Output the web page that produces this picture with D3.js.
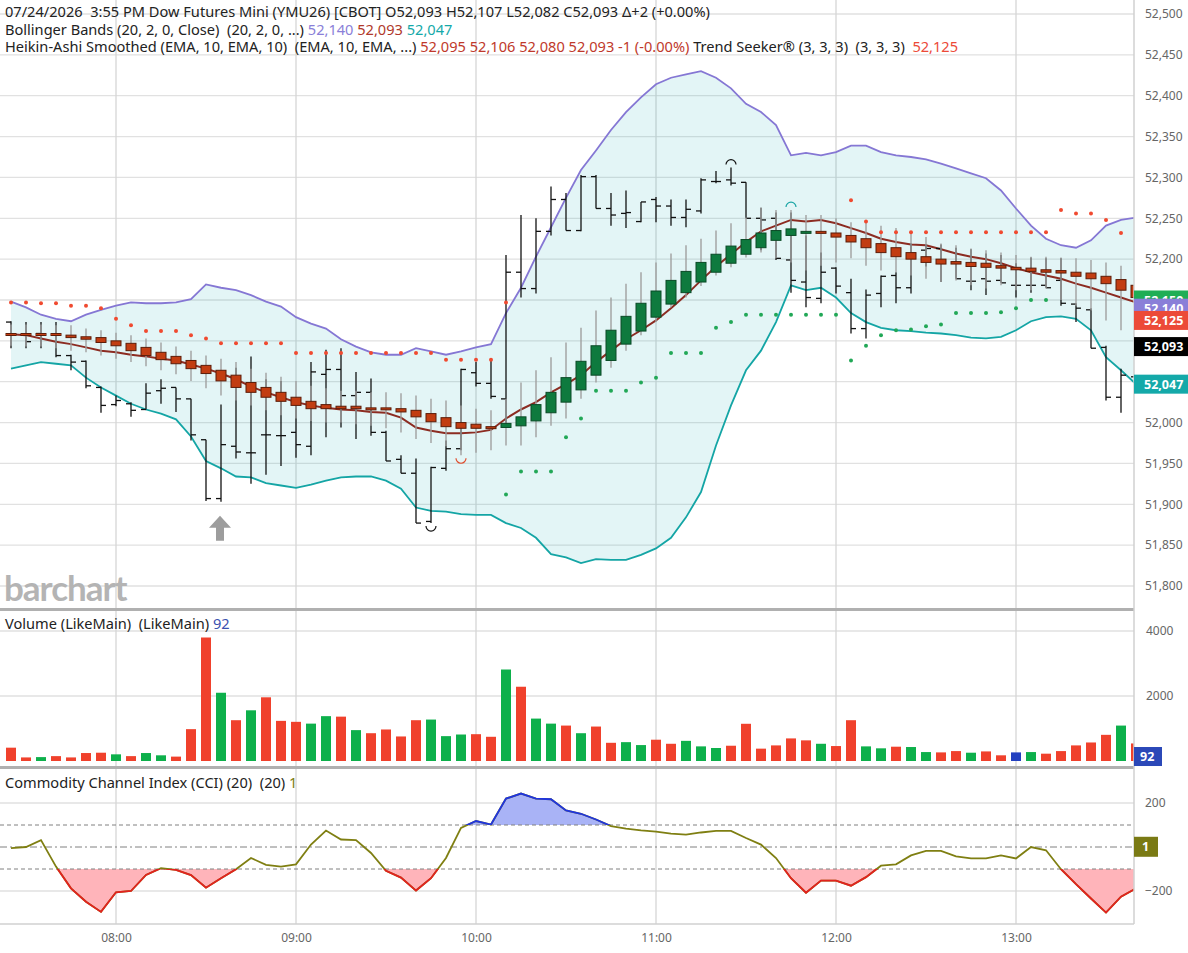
<!DOCTYPE html>
<html>
<head>
<meta charset="utf-8">
<script src="https://cdn.jsdelivr.net/npm/d3@7"></script>
<style>
body { margin: 0; background: #fff; }
svg text { font-family: "Noto Sans", sans-serif; }
</style>
</head>
<body>
<svg id="chart" width="1188" height="953"></svg>
<script>
// 5-minute bars, 07:25 .. 13:40
const startTime = new Date(2026, 6, 24, 7, 25)

const open = [52123,52108,52109,52108,52082,52075,52043,52022,52023,52016,
	52039,52043,52029,51979,51907,51971,51963,51985,51984,51988,
	51971,52059,52065,52033,52037,51988,51955,51938,51879,51944,
	51968,52061,52048,52029,52184,52164,52234,52273,52235,52301,
	52262,52256,52246,52273,52265,52251,52259,52295,52297,52294,
	52250,52250,52199,52172,52152,52189,52159,52115,52158,52180,
	52165,52211,52213,52196,52173,52176,52174,52168,52168,52168,
	52174,52145,52138,52092,52031,52056]
const high = [52124,52123,52123,52123,52083,52076,52044,52033,52025,52048,
	52053,52043,52029,51979,52022,52067,52081,52053,52051,52031,
	52074,52089,52091,52062,52054,51990,51960,51956,51946,51978,
	52066,52074,52078,52205,52254,52250,52289,52281,52303,52303,
	52281,52284,52270,52276,52273,52273,52299,52308,52312,52294,
	52263,52257,52257,52229,52208,52190,52176,52163,52180,52184,
	52219,52218,52218,52214,52212,52207,52205,52195,52202,52201,
	52201,52146,52140,52094,52066,52064]
const low = [52091,52091,52091,52080,52064,52042,52012,52020,52007,52016,
	52023,52013,51978,51904,51903,51956,51925,51936,51947,51957,
	51960,51982,51994,51980,51984,51953,51938,51877,51877,51941,
	51966,52044,52029,51996,52153,52158,52229,52235,52234,52262,
	52241,52238,52245,52245,52241,52239,52256,52293,52290,52250,
	52211,52199,52159,52141,52146,52158,52109,52103,52141,52146,
	52158,52191,52172,52176,52162,52156,52171,52153,52159,52165,
	52143,52123,52091,52027,52012,52033]
const close = [52108,52099,52107,52082,52074,52045,52021,52027,52015,52036,
	52042,52029,51985,51907,51973,51964,51963,51985,51984,51973,
	52062,52065,52033,52037,51988,51953,51938,51877,51945,51968,
	52065,52048,52032,52184,52164,52234,52273,52235,52301,52262,
	52254,52257,52270,52265,52251,52261,52297,52295,52293,52250,
	52248,52201,52174,52153,52184,52167,52115,52156,52179,52165,
	52207,52213,52196,52176,52173,52173,52171,52168,52168,52165,
	52146,52140,52091,52031,52058,52045]

// Heikin-Ashi smoothed candles
const haOpen = [52109,52109,52109,52109,52107,52105,52104,52100,52097,52092,
	52086,52081,52076,52070,52064,52058,52049,52043,52037,52031,
	52026,52022,52020,52020,52018,52018,52017,52015,52011,52006,
	52000,51998,51995,51994,51996,52002,52012,52025,52040,52058,
	52076,52096,52112,52129,52145,52159,52172,52184,52195,52206,
	52214,52223,52229,52232,52234,52232,52229,52225,52219,52214,
	52208,52203,52200,52197,52196,52195,52192,52190,52189,52187,
	52186,52184,52183,52179,52175,52168]
const haClose = [52108,52108,52108,52107,52104,52102,52098,52094,52088,52082,
	52077,52072,52066,52060,52051,52043,52037,52031,52026,52021,
	52017,52017,52017,52017,52016,52016,52013,52007,52001,51995,
	51993,51993,51993,51999,52007,52022,52037,52055,52075,52094,
	52113,52130,52146,52161,52174,52185,52196,52206,52216,52224,
	52232,52235,52237,52234,52232,52227,52221,52214,52208,52203,
	52200,52196,52194,52194,52191,52190,52189,52187,52185,52184,
	52183,52179,52176,52170,52162,52153]
const haHigh = [52120,52120,52120,52119,52119,52115,52113,52110,52107,52103,
	52098,52093,52088,52082,52078,52074,52066,52061,52056,52051,
	52045,52042,52039,52039,52037,52037,52036,52033,52029,52027,
	52021,52017,52015,52029,52049,52064,52080,52098,52116,52137,
	52153,52170,52184,52196,52207,52217,52225,52235,52244,52251,
	52263,52260,52260,52254,52254,52250,52245,52248,52241,52238,
	52233,52227,52219,52217,52213,52211,52208,52205,52203,52203,
	52202,52201,52199,52196,52192,52189]
const haLow = [52094,52093,52093,52091,52088,52086,52082,52078,52074,52069,
	52064,52059,52051,52042,52033,52027,52021,52015,52009,52005,
	52002,52000,52000,51998,51996,51993,51988,51980,51975,51971,
	51960,51963,51966,51972,51972,51982,51996,52005,52029,52049,
	52067,52088,52107,52123,52141,52153,52167,52180,52190,52202,
	52208,52201,52196,52186,52192,52196,52201,52192,52186,52184,
	52180,52176,52172,52174,52168,52164,52168,52162,52162,52164,
	52150,52143,52137,52125,52113,52107]

// Bollinger Bands (20, 2)
const bbUpper = [52148,52141,52132,52127,52124,52132,52138,52143,52147,52146,
	52146,52147,52151,52169,52165,52162,52156,52148,52142,52129,
	52121,52115,52102,52093,52086,52083,52083,52091,52087,52083,
	52087,52092,52096,52134,52165,52203,52239,52275,52309,52333,
	52358,52380,52398,52414,52422,52426,52430,52422,52409,52390,
	52380,52364,52327,52330,52327,52331,52339,52339,52331,52327,
	52325,52322,52317,52311,52305,52299,52284,52262,52241,52225,
	52217,52214,52223,52241,52248,52251]
const bbMiddle = [52108,52107,52103,52099,52096,52092,52088,52086,52083,52081,
	52078,52076,52071,52066,52060,52053,52044,52037,52031,52025,
	52021,52018,52016,52015,52013,52012,52006,51994,51990,51987,
	51987,51988,51991,52005,52016,52025,52037,52047,52058,52074,
	52088,52102,52113,52125,52140,52156,52174,52191,52206,52221,
	52234,52241,52248,52246,52248,52244,52238,52232,52225,52221,
	52218,52217,52212,52207,52203,52200,52195,52189,52184,52180,
	52176,52170,52165,52159,52153,52147]
const bbLower = [52066,52070,52074,52072,52070,52055,52043,52033,52023,52016,
	52011,52004,51983,51953,51944,51934,51933,51926,51923,51920,
	51924,51929,51933,51934,51934,51929,51919,51896,51892,51891,
	51888,51887,51887,51877,51871,51859,51839,51835,51828,51833,
	51832,51832,51838,51846,51859,51884,51915,51972,52021,52064,
	52088,52123,52168,52162,52165,52153,52134,52123,52116,52113,
	52112,52110,52109,52107,52104,52103,52105,52113,52124,52129,
	52130,52127,52113,52080,52064,52047]

// Trend Seeker dots (red above, green below)
const trendDown = [52147,52147,52146,52146,52143,52143,52140,52127,52119,52112,
	52112,52112,52107,52103,52097,52097,52097,52097,52097,52085,
	52085,52085,52085,52085,52085,52085,52085,52085,52085,52077,
	52077,52077,52077,52147,null,null,null,null,null,null,
	null,null,null,null,null,null,null,null,null,null,
	null,null,null,null,null,null,52272,52246,52233,52233,
	52233,52233,52233,52233,52233,52233,52233,52233,52233,52233,
	52260,52256,52256,52248,52232,52222]
const trendUp = [null,null,null,null,null,null,null,null,null,null,
	null,null,null,null,null,null,null,null,null,null,
	null,null,null,null,null,null,null,null,null,null,
	null,null,null,51912,51940,51940,51940,51982,52005,52039,
	52039,52039,52049,52055,52085,52085,52085,52116,52123,52132,
	52132,52132,52132,52132,52132,52132,52076,52094,52107,52113,
	52114,52118,52120,52134,52134,52134,52135,52140,52150,52150,
	null,null,null,null,null,null]

// swing markers: bar index, which series, high/low
const swings = [
	{ i: 28, series: "bar", side: "low" },
	{ i: 48, series: "bar", side: "high" },
	{ i: 30, series: "ha", side: "low" },
	{ i: 52, series: "ha", side: "high" }
]

const volume = [410,110,120,150,110,245,255,205,150,245,
	175,135,980,3800,2100,1255,1560,1960,1235,1205,
	1150,1380,1365,950,855,970,755,1255,1275,765,
	815,825,745,2815,2285,1305,1150,1090,855,1060,
	560,580,490,655,530,620,450,400,470,1145,
	380,480,695,635,530,460,1255,450,390,440,
	430,275,265,305,255,295,175,265,275,225,
	305,480,570,805,1090,540]
// u = up, d = down, n = unchanged
const volDir = ("dduddddudu" + "udddududdd" + "uududddduu" + "udduduudud" +
	"duudduuudd" + "ddddudduud" + "uudduddnud" + "ddddud").split("")

const cci = [-5,0,31,-89,-188,-249,-295,-206,-200,-127,
	-96,-104,-128,-185,-142,-101,-50,-81,-89,-79,
	11,75,34,31,-27,-108,-139,-198,-142,-50,
	87,118,102,220,243,220,217,166,151,125,
	95,84,76,70,61,56,66,73,73,41,
	11,-50,-142,-208,-153,-153,-176,-137,-85,-79,
	-38,-18,-18,-43,-52,-52,-38,-52,0,-15,
	-101,-169,-234,-298,-226,-188]

const priceTicks = d3.range(51800, 52501, 50)
const volTicks = [2000, 4000]
const cciTicks = [-200, 200]

const priceTags = [
	{ value: 52150, color: "#1fae55" },
	{ value: 52140, color: "#8a7fd8" },
	{ value: 52125, color: "#ec4a38" },
	{ value: 52093, color: "#000000" },
	{ value: 52047, color: "#14a9a9" }
]
const lastVolume = 92
const lastCci = 1

const header1 = "07/24/2026  3:55 PM Dow Futures Mini (YMU26) [CBOT] O52,093 H52,107 L52,082 C52,093 Δ+2 (+0.00%)"
const header2 = [["Bollinger Bands (20, 2, 0, Close)  (20, 2, 0, ...) ", "#222"], ["52,140", "#8a7fd8"], [" ", "#222"], ["52,093", "#b0392b"], [" ", "#222"], ["52,047", "#14a9a9"]]
const header3 = [["Heikin-Ashi Smoothed (EMA, 10, EMA, 10)  (EMA, 10, EMA, ...) ", "#222"], ["52,095 52,106 52,080 52,093 -1 (-0.00%)", "#c0392b"], [" Trend Seeker® (3, 3, 3)  (3, 3, 3)  ", "#222"], ["52,125", "#ec4a38"]]
const volHeader = [["Volume (LikeMain)  (LikeMain) ", "#222"], ["92", "#3a52b0"]]
const cciHeader = [["Commodity Channel Index (CCI) (20)  (20) ", "#222"], ["1", "#808010"]]

// ---------------------------------------------------------------

const svg = d3.select("#chart")
const plotRight = 1134
const plotBottom = 924

const barTimes = open.map((d, i) => d3.timeMinute.offset(startTime, i * 5))
const bars = open.map((d, i) => ({
	t: barTimes[i], o: d, h: high[i], l: low[i], c: close[i],
	ho: haOpen[i], hh: haHigh[i], hl: haLow[i], hc: haClose[i],
	up: bbUpper[i], mid: bbMiddle[i], lo: bbLower[i],
	td: trendDown[i], tu: trendUp[i],
	v: volume[i], vd: volDir[i], cci: cci[i]
}))

const x = d3.scaleTime()
	.domain([barTimes[0], barTimes[barTimes.length - 1]])
	.range([11, 1136])
const yP = d3.scaleLinear().domain([51800, 52500]).range([586, 14])
const yV = d3.scaleLinear().domain([0, 4000]).range([761, 631])
const yC = d3.scaleLinear().domain([-200, 200]).range([891, 803])

const defs = svg.append("defs")
defs.append("clipPath").attr("id", "plotClip")
	.append("rect").attr("x", 0).attr("y", 0).attr("width", plotRight).attr("height", plotBottom)
defs.append("clipPath").attr("id", "cciAbove")
	.append("rect").attr("x", 0).attr("y", 769).attr("width", plotRight).attr("height", yC(100) - 769)
defs.append("clipPath").attr("id", "cciBelow")
	.append("rect").attr("x", 0).attr("y", yC(-100)).attr("width", plotRight).attr("height", plotBottom - yC(-100))

// grid
const grid = svg.append("g").attr("stroke", "#e1e1e1").attr("stroke-width", 1.3)
grid.selectAll(".hp").data(priceTicks).join("line")
	.attr("x1", 0).attr("x2", plotRight).attr("y1", d => yP(d)).attr("y2", d => yP(d))
grid.selectAll(".hv").data(volTicks).join("line")
	.attr("x1", 0).attr("x2", plotRight).attr("y1", d => yV(d)).attr("y2", d => yV(d))
grid.selectAll(".hc").data(cciTicks).join("line")
	.attr("x1", 0).attr("x2", plotRight).attr("y1", d => yC(d)).attr("y2", d => yC(d))
grid.selectAll(".vt").data(x.ticks(d3.timeHour.every(1))).join("line")
	.attr("x1", d => x(d)).attr("x2", d => x(d)).attr("y1", 0).attr("y2", plotBottom)
	.attr("stroke", "#d6d6d6")

const plot = svg.append("g").attr("clip-path", "url(#plotClip)")

// ---------- price panel ----------
plot.append("path").datum(bars)
	.attr("fill", "rgba(0,160,170,0.11)")
	.attr("d", d3.area().x(d => x(d.t)).y0(d => yP(d.lo)).y1(d => yP(d.up)))
plot.append("path").datum(bars)
	.attr("fill", "none").attr("stroke", "#8577d4").attr("stroke-width", 1.8)
	.attr("d", d3.line().x(d => x(d.t)).y(d => yP(d.up)))
plot.append("path").datum(bars)
	.attr("fill", "none").attr("stroke", "#14a5a5").attr("stroke-width", 1.8)
	.attr("d", d3.line().x(d => x(d.t)).y(d => yP(d.lo)))
plot.append("path").datum(bars)
	.attr("fill", "none").attr("stroke", "#8c2c22").attr("stroke-width", 2)
	.attr("d", d3.line().x(d => x(d.t)).y(d => yP(d.mid)))

// OHLC bars
const ohlc = plot.append("g").attr("stroke", "#111").attr("stroke-width", 1.3)
ohlc.selectAll(".hl").data(bars).join("line")
	.attr("x1", d => x(d.t)).attr("x2", d => x(d.t))
	.attr("y1", d => yP(d.h)).attr("y2", d => yP(d.l))
ohlc.selectAll(".op").data(bars).join("line")
	.attr("x1", d => x(d.t) - 5).attr("x2", d => x(d.t))
	.attr("y1", d => yP(d.o)).attr("y2", d => yP(d.o))
ohlc.selectAll(".cl").data(bars).join("line")
	.attr("x1", d => x(d.t)).attr("x2", d => x(d.t) + 5)
	.attr("y1", d => yP(d.c)).attr("y2", d => yP(d.c))

// Heikin-Ashi candles
plot.append("g").selectAll("line").data(bars).join("line")
	.attr("stroke", "#a0a0a0").attr("stroke-width", 1.4)
	.attr("x1", d => x(d.t)).attr("x2", d => x(d.t))
	.attr("y1", d => yP(d.hh)).attr("y2", d => yP(d.hl))
plot.append("g").selectAll("rect").data(bars).join("rect")
	.attr("x", d => x(d.t) - 5)
	.attr("width", 10)
	.attr("y", d => yP(Math.max(d.ho, d.hc)))
	.attr("height", d => Math.max(2, Math.abs(yP(d.ho) - yP(d.hc))))
	.attr("fill", d => d.hc >= d.ho ? "#0e7a3e" : "#c23d12")
	.attr("stroke", d => d.hc >= d.ho ? "#0a4a26" : "#5c1c08")
	.attr("stroke-width", 1)

// Trend Seeker dots
plot.append("g").selectAll("circle").data(bars.filter(d => d.td != null)).join("circle")
	.attr("cx", d => x(d.t)).attr("cy", d => yP(d.td)).attr("r", 2)
	.attr("fill", "#f04a30")
plot.append("g").selectAll("circle").data(bars.filter(d => d.tu != null)).join("circle")
	.attr("cx", d => x(d.t)).attr("cy", d => yP(d.tu)).attr("r", 2)
	.attr("fill", "#22a857")

// swing markers
const swingColor = { "bar-low": "#111", "bar-high": "#111", "ha-low": "#e04a2a", "ha-high": "#1aa5a5" }
plot.append("g").selectAll("path").data(swings).join("path")
	.attr("fill", "none").attr("stroke-width", 1.2)
	.attr("stroke", s => swingColor[s.series + "-" + s.side])
	.attr("d", s => {
		const b = bars[s.i]
		const cx = x(b.t)
		if (s.side === "low") {
			const v = s.series === "bar" ? b.l : b.hl
			const cy = yP(v) + 3
			return `M${cx - 5},${cy} A5,5 0 0 0 ${cx + 5},${cy}`
		}
		const v = s.series === "bar" ? b.h : b.hh
		const cy = yP(v) - 3
		return `M${cx - 5},${cy} A5,5 0 0 1 ${cx + 5},${cy}`
	})

// gray up arrow under the low
{
	const b = bars[14]
	const ax = x(b.t) - 1
	const ay = yP(b.l) + 14
	plot.append("path")
		.attr("fill", "#9d9d9d")
		.attr("d", `M${ax},${ay} L${ax + 11},${ay + 12} L${ax + 4},${ay + 12} L${ax + 4},${ay + 25} L${ax - 4},${ay + 25} L${ax - 4},${ay + 12} L${ax - 11},${ay + 12} Z`)
}

svg.append("text").attr("x", 4).attr("y", 601)
	.attr("fill", "#b4b4b4").attr("font-size", 35).attr("font-weight", 700)
	.attr("letter-spacing", -1)
	.style("font-family", "Lato, sans-serif")
	.text("barchart")

// ---------- volume ----------
const volColor = { u: "#0db04b", d: "#f0412c", n: "#2340c0" }
plot.append("g").selectAll("rect").data(bars).join("rect")
	.attr("x", d => x(d.t) - 5).attr("width", 10)
	.attr("y", d => yV(d.v)).attr("height", d => yV(0) - yV(d.v))
	.attr("fill", d => volColor[d.vd])

// ---------- CCI ----------
const cciLine = d3.line().x(d => x(d.t)).y(d => yC(d.cci))
plot.append("path").datum(bars).attr("clip-path", "url(#cciAbove)")
	.attr("fill", "#a9b3f6")
	.attr("d", d3.area().x(d => x(d.t)).y0(yC(100)).y1(d => yC(d.cci)))
plot.append("path").datum(bars).attr("clip-path", "url(#cciBelow)")
	.attr("fill", "#ffb4ba")
	.attr("d", d3.area().x(d => x(d.t)).y0(yC(-100)).y1(d => yC(d.cci)))

const refs = plot.append("g").attr("stroke", "#808080").attr("stroke-width", 1)
refs.append("line").attr("x1", 0).attr("x2", plotRight).attr("y1", yC(100)).attr("y2", yC(100)).attr("stroke-dasharray", "4,3")
refs.append("line").attr("x1", 0).attr("x2", plotRight).attr("y1", yC(-100)).attr("y2", yC(-100)).attr("stroke-dasharray", "4,3")
refs.append("line").attr("x1", 0).attr("x2", plotRight).attr("y1", yC(0)).attr("y2", yC(0)).attr("stroke-dasharray", "7,3,2,3")

plot.append("path").datum(bars)
	.attr("fill", "none").attr("stroke", "#7f7f12").attr("stroke-width", 1.8)
	.attr("d", cciLine)
plot.append("path").datum(bars).attr("clip-path", "url(#cciAbove)")
	.attr("fill", "none").attr("stroke", "#1f34e0").attr("stroke-width", 1.8)
	.attr("d", cciLine)
plot.append("path").datum(bars).attr("clip-path", "url(#cciBelow)")
	.attr("fill", "none").attr("stroke", "#e3211f").attr("stroke-width", 1.8)
	.attr("d", cciLine)

// panel borders
const borders = svg.append("g").attr("stroke", "#b0b0b0")
borders.append("line").attr("x1", 0).attr("x2", plotRight).attr("y1", 609.5).attr("y2", 609.5).attr("stroke-width", 3)
borders.append("line").attr("x1", 0).attr("x2", plotRight).attr("y1", 767.5).attr("y2", 767.5).attr("stroke-width", 3)
borders.append("line").attr("x1", 0).attr("x2", plotRight).attr("y1", plotBottom).attr("y2", plotBottom).attr("stroke-width", 1.5).attr("stroke", "#d0d0d0")
borders.append("line").attr("x1", plotRight).attr("x2", plotRight).attr("y1", 0).attr("y2", plotBottom).attr("stroke-width", 1.5).attr("stroke", "#d0d0d0")

// ---------- axes ----------
function styleAxis(g) {
	g.select(".domain").remove()
	g.selectAll("text").attr("fill", "#666").attr("font-size", 12)
		.style("font-family", "'Noto Sans', sans-serif")
}
// tick labels that sit under a value tag are not shown
const shownPriceTicks = priceTicks.filter(t => !priceTags.some(g => Math.abs(yP(g.value) - yP(t)) < 14))
svg.append("g").attr("transform", `translate(${plotRight},0)`)
	.call(d3.axisRight(yP).tickValues(shownPriceTicks).tickFormat(d3.format(",")).tickSize(0).tickPadding(11))
	.call(styleAxis)
svg.append("g").attr("transform", `translate(${plotRight},0)`)
	.call(d3.axisRight(yV).tickValues(volTicks).tickFormat(d3.format("d")).tickSize(0).tickPadding(12))
	.call(styleAxis)
svg.append("g").attr("transform", `translate(${plotRight},0)`)
	.call(d3.axisRight(yC).tickValues(cciTicks).tickSize(0).tickPadding(11))
	.call(styleAxis)
svg.append("g").attr("transform", `translate(0,${plotBottom})`)
	.call(d3.axisBottom(x).ticks(d3.timeHour.every(1)).tickFormat(d3.timeFormat("%H:%M")).tickSize(0).tickPadding(9))
	.call(styleAxis)

// value tags
const tags = svg.append("g")
priceTags.forEach(t => {
	const cy = yP(t.value)
	tags.append("rect").attr("x", plotRight).attr("y", cy - 9.5).attr("width", 54).attr("height", 19).attr("fill", t.color)
	tags.append("text").attr("x", plotRight + 10).attr("y", cy).attr("dy", "0.36em")
		.attr("fill", "#fff").attr("font-size", 12.5).attr("font-weight", 700)
		.text(d3.format(",")(t.value))
})
tags.append("rect").attr("x", plotRight).attr("y", yV(lastVolume) - 11).attr("width", 28).attr("height", 19).attr("fill", "#2b48b8")
tags.append("text").attr("x", plotRight + 6).attr("y", yV(lastVolume) - 1.5).attr("dy", "0.36em")
	.attr("fill", "#fff").attr("font-size", 12.5).attr("font-weight", 700).text(lastVolume)
tags.append("rect").attr("x", plotRight).attr("y", yC(lastCci) - 10).attr("width", 24).attr("height", 20).attr("fill", "#7a7a14")
tags.append("text").attr("x", plotRight + 8).attr("y", yC(lastCci)).attr("dy", "0.36em")
	.attr("fill", "#fff").attr("font-size", 12.5).attr("font-weight", 700).text(lastCci)

// ---------- legends ----------
function legend(parts, y) {
	const t = svg.append("text").attr("x", 5).attr("y", y).attr("font-size", 14.6)
		.style("white-space", "pre")
	parts.forEach(p => t.append("tspan").attr("fill", p[1]).text(p[0]))
}
legend([[header1, "#222"]], 17)
legend(header2, 35)
legend(header3, 52)
legend(volHeader, 629)
legend(cciHeader, 788)
</script>
</body>
</html>
